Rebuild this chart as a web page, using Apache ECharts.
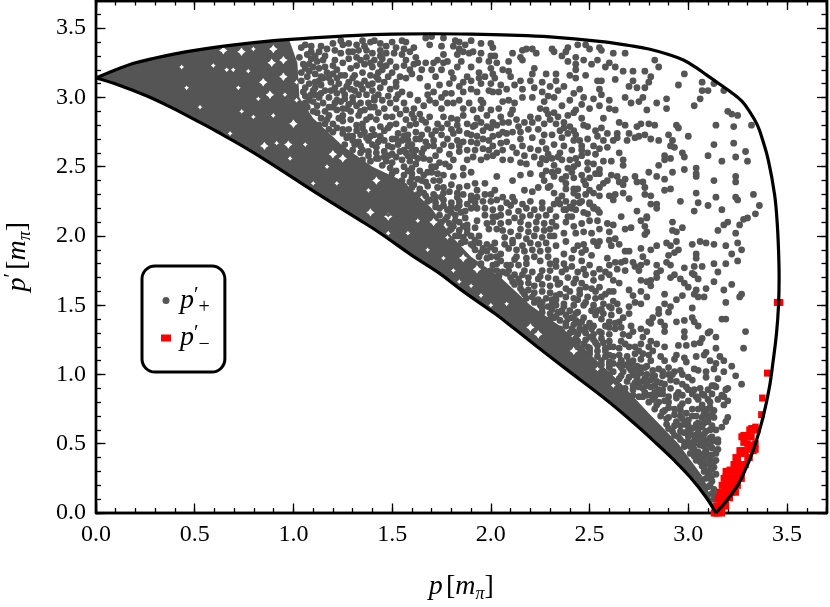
<!DOCTYPE html>
<html><head><meta charset="utf-8">
<script src="https://cdn.jsdelivr.net/npm/echarts@6/dist/echarts.min.js"></script>
<style>html,body{margin:0;padding:0;background:#fff}#c{width:830px;height:607px}</style></head>
<body><div id="c"></div>
<script>
const upperCurve=[[0,3.14],[0.1,3.2],[0.2,3.25],[0.3,3.285],[0.4,3.315],[0.5,3.34],[0.7,3.38],[0.9,3.41],[1.1,3.43],[1.3,3.447],[1.5,3.457],[1.7,3.46],[1.9,3.457],[2.1,3.45],[2.3,3.437],[2.55,3.405],[2.7,3.375],[2.8,3.35],[2.9,3.31],[2.975,3.27],[3.04,3.215],[3.09,3.165],[3.13,3.125],[3.165,3.09],[3.215,3.04],[3.27,2.975],[3.31,2.9],[3.35,2.8],[3.375,2.7],[3.405,2.55],[3.437,2.3],[3.45,2.1],[3.457,1.9],[3.46,1.7],[3.457,1.5],[3.447,1.3],[3.43,1.1],[3.41,0.9],[3.38,0.7],[3.34,0.5],[3.315,0.4],[3.285,0.3],[3.25,0.2],[3.2,0.1],[3.14,0]];
const lowerCurve=[[0,3.14],[0.114,3.09],[0.258,3.01],[0.385,2.925],[0.5,2.84],[0.61,2.756],[0.8,2.6],[1.035,2.385],[1.2,2.235],[1.33,2.12],[1.44,2.02],[1.6,1.86],[1.735,1.735],[1.86,1.6],[2.02,1.44],[2.12,1.33],[2.235,1.2],[2.385,1.035],[2.6,0.8],[2.756,0.61],[2.84,0.5],[2.925,0.385],[3.01,0.258],[3.09,0.114],[3.14,0]];
// Outline of the part of the cloud where the dots have merged into a solid mass, and the gaps left in it
const mergedCloudEdge=[[0.98,3.41],[1.02,3.25],[1.03,3.0],[1.1,2.85],[1.25,2.65],[1.4,2.5],[1.55,2.4],[1.7,2.2],[1.8,2.0],[1.9,1.85],[2.05,1.7],[2.2,1.5],[2.35,1.35],[2.5,1.15],[2.65,0.95],[2.8,0.72],[2.95,0.5],[3.08,0.25],[3.14,0]];
const largeGaps=[0.645,3.34,0.737,3.33,0.898,3.35,0.89,3.25,0.949,3.27,0.847,3.11,0.949,3.15,0.881,3.02,1.0,2.81,0.853,2.65,0.974,2.66,1.48,2.14,1.71,2.10,1.86,1.84,1.93,1.76,1.20,2.59,1.25,2.56,1.42,2.40,1.39,2.17,2.20,1.34,2.24,1.29,2.42,1.17];
const smallGaps=[0.434,3.22,0.594,3.23,0.797,3.35,0.662,3.20,0.695,3.20,0.771,3.19,1.016,3.11,0.822,2.99,0.957,3.02,1.016,2.98,0.721,3.07,0.797,2.86,0.898,2.87,0.915,2.67,0.983,2.56,0.679,2.74,0.527,2.93,0.459,3.07,0.738,2.90,1.63,2.11,1.58,2.02,1.78,1.99,1.76,1.84,1.81,1.75,1.90,1.64,1.48,2.02,1.68,1.90,1.84,1.67,1.95,1.57,2.00,1.50,2.08,1.51,1.06,2.66,1.17,2.50,1.22,2.38,1.38,2.33,1.10,2.38,1.48,2.15,2.54,1.04,2.62,0.92];
const plusRight=[2.62,3.32,2.68,3.32,2.83,3.27,2.85,3.22,2.98,3.17,2.95,3.09,3.07,3.11,3.13,3.10,3.18,3.05,3.10,3.05,3.07,3.05,3.06,2.99,3.03,2.94,3.20,2.90,3.22,2.88,3.25,2.87,3.32,2.80,3.23,2.79,3.14,2.80,3.00,2.72,3.23,2.67,3.13,2.66,3.29,2.61,3.10,2.58,3.24,2.57,3.17,2.54,3.30,2.54,2.98,2.48,3.04,2.49,3.04,2.45,3.04,2.43,3.13,2.40,3.24,2.43,3.24,2.39,3.33,2.30,3.14,2.28,3.24,2.28,3.25,2.26,3.04,2.31,3.05,2.24,3.10,2.22,2.96,2.25,3.03,2.18,3.17,2.19,3.36,2.22,3.34,2.16,3.30,2.13,2.92,2.46,2.85,2.51,2.80,2.46,2.84,2.43,2.88,2.41,2.88,2.33,2.91,2.34,2.73,2.43,2.74,2.39,2.77,2.39,2.78,2.35,2.78,2.30,2.81,2.29,2.81,2.23,2.84,2.23,2.84,2.20,2.74,2.18,2.79,2.14,2.70,2.27,2.67,2.31,2.63,2.30,2.60,2.29,2.62,2.26,2.55,2.29,2.52,2.31,2.66,2.14,2.59,2.40,2.61,2.44,2.64,2.43,2.65,2.39,2.68,2.41,2.67,2.37,2.55,2.48,2.53,2.45,2.55,2.45,2.61,2.54,2.67,2.55,2.67,2.51,2.65,2.60,2.59,2.64,2.55,2.63,2.52,2.65,2.53,2.59,2.88,2.58,2.88,2.55,2.91,2.56,2.97,2.60,2.98,2.57,2.91,2.65,2.93,2.64,2.92,2.69,2.90,2.73,2.85,2.69,2.81,2.70,2.78,2.73,2.75,2.72,2.73,2.71,2.70,2.74,2.69,2.69,2.74,2.79,2.76,2.81,2.80,2.81,2.83,2.80,2.94,2.80,2.95,2.78,2.68,2.80,2.65,2.82,2.64,2.74,2.64,2.71,2.59,2.74,2.56,2.78,2.53,2.76,2.54,2.72,2.57,2.85,2.49,2.70,2.46,2.85,2.47,2.80,2.49,2.79,2.40,2.79,2.37,2.82,2.33,2.81,2.37,2.78,2.42,2.76,2.43,2.73,2.45,2.69,2.46,2.65,2.46,2.62,2.46,2.58,2.36,2.71,2.31,2.73,2.41,2.62,2.35,2.60,2.34,2.57,2.36,2.55,2.40,2.55,2.43,2.56,2.49,2.48,2.39,2.49,2.41,2.46,2.38,2.43,2.32,2.51,2.32,2.43,2.46,2.44,2.47,2.40,2.48,2.37,2.38,2.38,2.38,2.34,2.42,2.34,2.44,2.34,2.42,2.31,2.44,2.29,2.48,2.30,2.36,2.29,2.30,2.36,2.34,2.26,2.35,2.23,2.38,2.25,2.42,2.24,2.46,2.25,2.38,2.19,2.41,2.20,2.43,2.19,2.39,2.14,2.50,2.23,2.52,2.21,2.54,2.19,2.55,2.17,2.49,2.16,2.31,3.35,2.32,3.33,2.39,3.36,2.38,3.33,2.36,3.30,2.44,3.38,2.48,3.38,2.50,3.35,2.55,3.36,2.56,3.34,2.43,3.29,2.47,3.27,2.39,3.26,2.43,3.24,2.43,3.20,2.51,3.24,2.54,3.27,2.58,3.22,2.60,3.25,2.63,3.22,2.67,3.19,2.72,3.19,2.78,3.19,2.81,3.15,2.80,3.11,2.72,3.12,2.70,3.08,2.74,3.07,2.78,3.07,2.63,3.13,2.56,3.12,2.54,3.12,2.48,3.16,2.43,3.14,2.40,3.16,2.33,3.17,2.33,3.12,2.45,3.06,2.55,3.06,2.56,3.02,2.47,3.00,2.52,2.99,2.40,2.98,2.32,3.00,2.60,2.98,2.68,3.00,2.77,3.00,2.75,2.97,2.71,2.96,2.84,2.96,2.89,2.99,2.89,2.92,2.79,2.91,2.63,2.91,2.60,2.92,2.55,2.94,2.50,2.92,2.43,2.91,2.42,2.89,2.32,2.89,2.39,2.87];
const plusLowerRight=[3.28,2.12,3.26,2.08,3.24,2.02,3.20,2.10,3.18,2.08,3.15,2.04,2.92,2.10,2.97,2.06,2.92,2.04,2.94,2.03,2.76,2.11,2.79,2.13,2.78,2.07,2.79,2.03,2.78,2.01,2.68,2.05,2.71,2.06,3.02,1.94,3.06,1.96,3.09,1.95,3.13,1.94,3.19,1.93,3.25,1.95,3.27,1.90,3.22,1.87,3.25,1.82,2.89,1.95,2.94,1.96,2.91,1.93,2.95,1.90,2.93,1.88,2.90,1.86,2.84,1.93,2.81,1.90,2.76,1.91,2.70,1.89,2.68,1.89,3.04,1.87,3.04,1.84,3.13,1.80,3.19,1.80,3.15,1.74,3.13,1.67,3.18,1.61,3.22,1.65,3.27,1.58,3.26,1.56,3.19,1.52,2.98,1.77,3.03,1.78,3.07,1.78,2.89,1.81,2.91,1.79,2.84,1.79,2.86,1.75,2.84,1.73,2.84,1.70,2.81,1.68,2.91,1.70,2.93,1.72,2.96,1.69,2.98,1.66,3.00,1.63,3.02,1.73,3.03,1.72,3.05,1.69,3.04,1.61,3.03,1.58,3.09,1.62,3.08,1.56,3.05,1.56,2.97,1.57,2.94,1.54,2.88,1.58,2.85,1.47,2.88,1.51,2.91,1.49,2.90,1.45,3.02,1.48,3.17,1.40,3.19,1.40,2.94,1.38,2.98,1.39,3.02,1.41,3.03,1.38,3.05,1.35,2.98,1.31,2.98,1.27,3.10,1.30,3.14,1.27,3.29,1.31,3.28,1.19,2.95,1.21,2.99,1.21,3.03,1.22,3.14,1.19,3.09,1.16,3.08,1.14,2.94,1.14,2.93,1.11,2.99,1.09,3.04,1.13,3.11,1.10,3.14,1.08,3.18,1.10,3.16,1.13,3.22,1.06,3.13,1.04,3.18,1.02,3.24,0.99,3.27,0.93,3.00,0.98,3.05,1.03,3.09,1.02,2.93,1.02,3.13,0.92,3.18,0.84,3.08,0.85,3.20,0.81,3.03,0.89,2.97,0.93,3.00,0.89,2.95,0.87,2.92,1.00,2.91,0.96,2.87,0.99,2.88,0.93,2.77,1.85,2.79,1.81,2.76,1.79,2.73,1.78,2.75,1.75,2.72,1.81,2.68,1.82,2.66,1.81,2.63,1.81,2.59,1.84,2.60,1.79,2.64,1.76,2.68,1.75,2.76,1.68,2.79,1.67,2.81,1.64,2.76,1.60,2.72,1.57,2.79,1.56,2.73,1.52,2.76,1.51,2.65,1.66,2.70,1.61,2.62,1.60,2.60,1.60,2.85,1.44,2.82,1.41,2.86,1.38,2.81,1.37,2.88,1.35,2.88,1.31,2.80,1.38,2.79,1.31,2.76,1.33,2.71,1.35,2.72,1.31,2.70,1.28,2.77,1.27,2.81,1.24,2.84,1.22,2.88,1.20,2.76,1.22,2.64,1.51,2.65,1.46,2.62,1.53,2.67,1.41,2.65,1.38,2.66,1.34,2.63,1.33,2.67,1.29,2.66,1.24,2.70,1.44,2.70,1.49,2.60,1.49,2.57,1.44,2.54,1.46,3.11,1.31,3.07,1.26,3.06,1.23,3.15,0.97,3.14,0.91,3.12,0.92,3.09,0.98,3.20,0.90,3.19,0.89,3.17,0.85,3.15,0.82,3.18,0.78,3.20,0.69,3.19,0.66,3.17,0.62,3.14,0.60,3.11,0.76,3.08,0.75,3.13,0.74,3.08,0.72,3.13,0.69,3.10,0.69,3.15,0.51,3.15,0.46,3.14,0.43,3.14,0.38,3.15,0.53,3.12,0.32,3.14,0.28,3.12,0.23,3.13,0.17,3.14,0.13];
const plusTopMiddle=[1.67,3.43,1.70,3.44,1.69,3.38,1.75,3.37,1.76,3.43,1.82,3.41,1.84,3.40,1.87,3.38,1.90,3.41,1.81,3.37,1.84,3.35,1.86,3.33,1.89,3.32,1.91,3.33,1.95,3.39,2.00,3.39,2.01,3.36,1.95,3.32,2.00,3.30,2.02,3.30,1.94,3.27,1.99,3.26,2.03,3.25,2.09,3.26,2.11,3.32,2.16,3.34,2.18,3.35,2.21,3.35,2.23,3.32,2.15,3.29,2.16,3.27,2.22,3.21,2.21,3.17,2.20,3.12,2.28,3.17,2.00,3.21,2.01,3.17,2.06,3.20,2.09,3.19,2.10,3.15,2.02,3.14,2.00,3.10,2.05,3.09,2.01,3.04,1.99,3.05,1.95,3.10,1.90,3.22,1.88,3.15,1.86,3.11,1.90,3.12,1.84,3.08,1.86,3.04,1.90,3.06,1.93,3.04,1.95,2.98,1.96,2.96,1.76,3.31,1.73,3.27,1.71,3.25,1.70,3.20,1.72,3.15,1.76,3.25,1.78,3.26,1.67,3.25,1.62,3.29,1.61,3.36,1.57,3.40,1.55,3.41,1.56,3.35,1.57,3.27,1.60,3.17,1.59,3.20,1.54,3.15,1.52,3.11,1.52,3.08,1.57,3.14,1.64,3.14,1.68,3.08,1.71,3.04,1.74,3.09,1.77,3.03,1.80,3.18,1.81,3.14,1.79,3.10,1.84,2.98,1.81,2.96,1.89,2.96,1.91,2.91,1.95,2.92,1.98,2.87,2.00,2.91,2.04,2.92,2.06,2.97,2.09,2.98,2.12,2.96,2.16,3.00,2.21,3.00,2.25,2.92,2.28,2.91,2.29,2.88,2.11,2.91,2.10,2.88,2.05,2.86,2.01,2.82,1.98,2.79,1.95,2.82,1.93,2.85,2.20,2.86,2.17,2.82,2.14,2.79,2.13,2.84,2.11,2.75,2.15,2.75,2.06,2.75,2.04,2.73,2.01,2.72,1.99,2.69,2.01,2.65,2.05,2.67,2.08,2.68,2.11,2.64,2.16,2.65,2.20,2.63,2.24,2.77,2.27,2.73,2.26,2.68,2.28,2.63,2.29,2.59,2.21,2.71,1.96,2.70,1.93,2.72,1.90,2.73,1.88,2.74,1.83,2.69,1.86,2.68,1.90,2.68,1.93,2.67,1.96,2.63,1.78,2.70,1.81,2.74,1.84,2.76,1.88,2.81,1.91,2.79,1.83,2.84,1.80,2.85,1.76,2.86,1.73,2.81,1.72,2.76,1.70,2.73,1.62,2.81,1.67,2.82,1.79,2.59,1.81,2.55,1.77,2.52,1.79,2.50,1.81,2.43,1.86,2.49,1.86,2.44,1.90,2.46,1.93,2.33,1.97,2.38,2.03,2.43,2.02,2.33,2.11,2.40,2.15,2.44,2.20,2.45,2.18,2.52,2.15,2.53,2.10,2.55,2.06,2.55,2.01,2.58,1.98,2.57,1.95,2.55,1.91,2.57,1.88,2.55,1.84,2.61,2.25,2.52,2.28,2.47,2.29,2.35,2.24,2.35,2.21,2.32,2.17,2.33,2.11,2.28,2.06,2.28,2.03,2.26,2.00,2.30,1.96,2.25,1.93,2.28,1.90,2.26,1.86,2.30,1.83,2.28,1.79,2.32,1.76,2.31,1.73,2.35,1.71,2.40,1.73,2.45,1.70,2.50,1.74,2.53,1.72,2.58,1.74,2.62,1.71,2.65,1.67,2.68,1.65,2.73];
const plusTopLeft=[1.39,3.40,1.41,3.41,1.35,3.41,1.32,3.38,1.30,3.33,1.32,3.29,1.37,3.34,1.40,3.32,1.44,3.34,1.47,3.37,1.50,3.40,1.47,3.32,1.49,3.26,1.47,3.23,1.43,3.18,1.41,3.27,1.29,3.21,1.26,3.16,1.31,3.16,1.35,3.18,1.48,3.15,1.46,3.11,1.25,3.38,1.24,3.41,1.20,3.39,1.24,3.32,1.21,3.27,1.16,3.30,1.14,3.37,1.09,3.37,1.06,3.38,1.12,3.26,1.08,3.24,1.09,3.28,1.05,3.24,1.15,3.14,1.14,3.09,1.16,3.05,1.23,3.10,1.25,3.05,1.26,3.02,1.22,2.98,1.20,2.93,1.25,2.92,1.29,3.06,1.31,3.05,1.35,3.06,1.40,3.05,1.43,3.02,1.45,2.98,1.41,2.93,1.36,2.91,1.33,3.02,1.37,3.02,1.38,2.96,1.32,2.94,1.52,2.99,1.55,3.04,1.59,3.02,1.49,2.96,1.52,2.92,1.47,2.86,1.50,2.86,1.54,2.88,1.57,2.91,1.61,2.92,1.66,2.94,1.63,2.98,1.69,2.98,1.68,3.02,1.72,2.96,1.42,2.84,1.39,2.86,1.32,2.80,1.29,2.84,1.25,2.87,1.23,2.85,1.20,2.81,1.18,2.87,1.18,2.93,1.15,2.96,1.09,3.02,1.05,3.04,1.10,3.05,1.11,3.11,1.07,3.15,1.11,3.17,1.16,3.22,1.20,3.17,1.22,3.20,1.06,3.21,1.07,2.93,1.10,2.90,1.14,2.85,1.16,2.81,1.20,2.75,1.25,2.77,1.28,2.77,1.36,2.75,1.40,2.77,1.44,2.79,1.49,2.80,1.52,2.81,1.56,2.77,1.59,2.80,1.62,2.75,1.58,2.73,1.53,2.74,1.50,2.70,1.46,2.69,1.41,2.73,1.38,2.69,1.34,2.73,1.30,2.69,1.27,2.71,1.26,2.66,1.30,2.62,1.34,2.65,1.38,2.61,1.42,2.64,1.46,2.61,1.50,2.64,1.54,2.61,1.58,2.65,1.62,2.62,1.66,2.63];
const plusTopLeftExtra=[1.09,3.33,1.13,3.33,1.17,3.35,1.21,3.34,1.28,3.33,1.28,3.39,1.33,3.34,1.36,3.37,1.44,3.39,1.52,3.36,1.51,3.32,1.55,3.31,1.59,3.33,1.44,3.30,1.37,3.29,1.28,3.28,1.25,3.25,1.20,3.23,1.13,3.21,1.10,3.22,1.32,3.23,1.36,3.24,1.40,3.22,1.44,3.24,1.52,3.22,1.56,3.23,1.61,3.24,1.65,3.20,1.63,3.25,1.39,3.16,1.43,3.13,1.50,3.18,1.24,3.16,1.17,3.18,1.14,3.15,1.19,3.11,1.28,3.11,1.32,3.10,1.36,3.12,1.40,3.10,1.44,3.07,1.49,3.06,1.53,3.02,1.08,3.10,1.11,3.07,1.19,3.05,1.08,2.98,1.13,3.00,1.18,3.00,1.22,3.03,1.30,3.00,1.41,2.98,1.48,3.01,1.28,2.95,1.24,2.97,1.12,2.89,1.22,2.91,1.29,2.90,1.34,2.96,1.43,2.89,1.46,2.92,1.56,2.96,1.60,2.88,1.64,2.88,1.57,2.84,1.61,2.85,1.65,2.84,1.69,2.86,1.35,2.81,1.46,2.76,1.28,2.72,1.33,2.68,1.43,2.68,1.55,2.69,1.58,2.69,1.62,2.70,1.68,2.77,1.71,2.69,1.75,2.73,1.75,2.78,1.78,2.81,1.80,2.77,1.76,2.66,1.80,2.65,1.84,2.65,1.88,2.62,1.92,2.62,1.83,2.80,1.86,2.87,1.75,2.92,1.78,2.96,1.86,2.92,1.92,2.80,1.96,2.76,2.00,2.78,2.03,2.80,2.06,2.82,2.09,2.82,2.08,2.74,2.15,2.70,2.19,2.77,2.21,2.82,2.24,2.85,2.27,2.81,2.06,2.62,1.99,2.62,2.03,2.60,2.13,2.60,2.17,2.58,2.22,2.57,2.24,2.62,2.26,2.56,1.75,3.00,1.80,3.03,1.75,3.20,1.83,3.22,1.85,3.26,1.83,3.31,1.94,3.18,1.97,3.15,1.94,3.14,2.04,3.04,2.08,3.06,2.12,3.09,2.15,3.12,2.16,3.06,2.22,3.07,2.26,3.04,2.26,3.11,2.30,3.08,2.29,3.01,2.34,3.05,2.37,3.08,2.42,3.03,2.36,2.94,2.46,2.95,2.27,2.97,2.30,2.84,2.34,2.86,2.35,2.76,2.39,2.74,2.42,2.69,2.32,2.66,2.37,2.65,2.28,2.55,2.31,2.56,2.42,2.50,2.44,2.52,2.34,2.47,2.26,2.44,2.31,2.46,2.36,2.41,2.42,2.42,2.27,2.40,2.32,2.31,2.50,2.33,2.55,2.35,2.57,2.38,2.50,2.42,2.49,2.53,2.49,2.60,2.52,2.52,2.57,2.54,2.57,2.69,2.62,2.69];
const plusMiddleDense=[1.34,2.60,1.38,2.58,1.42,2.60,1.46,2.57,1.50,2.59,1.57,2.60,1.61,2.58,1.65,2.60,1.35,2.55,1.39,2.54,1.43,2.56,1.47,2.54,1.55,2.55,1.59,2.54,1.63,2.56,1.69,2.55,1.45,2.51,1.49,2.49,1.56,2.50,1.60,2.49,1.64,2.47,1.72,2.50,1.50,2.45,1.56,2.44,1.60,2.45,1.66,2.44,1.68,2.46,1.76,2.44,1.55,2.40,1.59,2.39,1.63,2.41,1.67,2.39,1.74,2.40,1.60,2.35,1.64,2.34,1.68,2.36,1.76,2.35,1.80,2.37,1.84,2.35,1.88,2.36,1.92,2.38,1.63,2.30,1.67,2.29,1.71,2.30,1.75,2.28,1.83,2.31,1.90,2.29,1.97,2.30,1.68,2.25,1.72,2.24,1.76,2.26,1.80,2.24,1.84,2.25,1.88,2.23,1.92,2.24,2.00,2.25,2.08,2.24,2.12,2.25,2.16,2.23,2.20,2.25,2.26,2.24,1.74,2.20,1.78,2.19,1.83,2.20,1.87,2.18,1.90,2.20,1.97,2.20,2.01,2.19,2.05,2.20,2.14,2.18,2.18,2.20,2.22,2.19,2.26,2.20,2.30,2.19,1.74,2.15,1.78,2.14,1.82,2.15,1.87,2.13,1.97,2.15,2.01,2.14,2.05,2.15,2.16,2.14,2.20,2.15,2.24,2.14,2.28,2.15,1.75,2.10,1.79,2.09,1.84,2.10,1.88,2.08,1.98,2.09,2.01,2.10,2.05,2.09,2.15,2.10,2.19,2.08,2.23,2.10,2.27,2.09,2.31,2.10,1.80,2.05,1.84,2.04,1.88,2.05,1.99,2.05,2.06,2.04,2.15,2.05,2.19,2.03,2.23,2.05,2.27,2.04,2.30,2.05,1.82,2.00,1.86,1.99,1.90,2.00,2.07,1.99,2.14,2.00,2.18,1.98,2.22,2.00,2.26,1.99,2.30,2.00,1.85,1.95,1.90,1.94,1.94,1.95,1.98,1.94,2.02,1.95,2.07,1.94,2.11,1.95,2.16,1.93,2.20,1.95,2.24,1.94,2.28,1.95,1.92,1.90,1.98,1.89,2.02,1.90,2.13,1.90,2.17,1.89,2.21,1.90,2.25,1.89,2.29,1.90,1.94,1.85,1.98,1.84,2.03,1.85,2.13,1.85,2.18,1.84,2.22,1.85,2.29,1.85,1.95,1.80,2.03,1.80,2.08,1.79,2.18,1.80,2.30,1.80,2.03,1.75,2.06,1.74,2.09,1.75,2.17,1.75,2.21,1.74,2.30,1.75,2.10,1.70,2.14,1.69,2.19,1.70,2.24,1.69,2.29,1.70,2.33,1.69,2.12,1.65,2.22,1.64,2.26,1.65,2.30,1.64,2.34,1.65,2.16,1.60,2.22,1.59,2.26,1.60,2.30,1.59,2.40,1.60,2.45,1.61,2.18,1.55,2.24,1.54,2.28,1.55,2.31,1.54,2.42,1.55,2.25,1.50,2.29,1.49,2.33,1.50,2.37,1.49,2.26,1.45,2.30,1.44,2.35,1.45,2.40,1.46,2.44,1.45,2.30,1.40,2.35,1.39,2.39,1.40,2.43,1.39,2.56,1.40,2.38,1.35,2.48,1.34,2.52,1.35,2.60,1.34,2.40,1.30,2.44,1.29,2.48,1.30,2.52,1.29,2.40,1.25,2.44,1.24,2.48,1.25,2.56,1.26,2.60,1.24,2.44,1.20,2.50,1.19,2.54,1.21,2.60,1.20,2.65,1.19,2.70,1.20,2.50,1.15,2.60,1.14,2.73,1.15,2.80,1.14,2.56,1.10,2.60,1.09,2.66,1.10,2.70,1.09,2.76,1.11,2.88,1.10,2.60,1.05,2.73,1.04,2.78,1.05,2.85,1.04,2.90,1.05,2.60,1.00,2.66,0.99,2.72,1.00,2.76,1.01,2.83,0.99,2.97,1.00,2.69,0.95,2.73,0.94,2.77,0.95,2.81,0.96,2.86,0.94,2.94,0.95,3.02,0.96,2.68,0.90,2.72,0.89,2.77,0.90,2.81,0.91,2.85,0.89,2.91,0.90,2.99,0.91,3.06,0.90,3.10,0.89,2.72,0.85,2.77,0.84,2.81,0.85,2.85,0.86,2.90,0.84,2.94,0.85,3.04,0.84,3.12,0.86];
const plusCloudEdge=[1.04,3.36,1.07,3.31,1.11,3.30,1.15,3.27,1.03,3.29,1.04,3.18,1.08,3.19,1.13,3.12,1.04,3.12,1.06,3.07,1.18,3.14,1.22,3.14,1.27,3.08,1.21,3.07,1.06,3.01,1.11,3.02,1.14,3.03,1.06,2.96,1.12,2.94,1.16,2.90,1.10,2.97,1.21,2.96,1.26,2.99,1.30,2.97,1.25,2.83,1.17,2.84,1.22,2.78,1.13,2.80,1.18,2.77,1.25,2.74,1.32,2.76,1.30,2.72,1.35,2.78,1.37,2.71,1.31,2.66,1.35,2.62,1.40,2.66,1.44,2.70,1.48,2.65,1.39,2.72,1.37,2.84,1.33,2.87,1.27,2.92,1.34,2.90,1.39,2.93,1.41,3.00,1.34,3.09,1.30,3.14,1.38,3.09,1.42,3.15,1.45,3.20,1.34,3.27,1.39,3.25,1.45,3.28,1.44,2.72,1.48,2.78,1.52,2.70,1.56,2.72,1.60,2.66,1.64,2.70,1.68,2.65,1.53,2.66,1.56,2.62,1.60,2.62,1.66,2.56,1.52,2.57,1.48,2.58,1.42,2.56,1.50,2.53,1.58,2.58,1.52,2.47,1.58,2.47,1.62,2.52,1.70,2.46,1.65,2.40,1.60,2.42,1.56,2.36,1.61,2.37,1.66,2.31,1.69,2.26,1.72,2.28,1.72,2.21,1.76,2.22,1.80,2.21,1.84,2.22,1.80,2.17,1.85,2.17,1.77,2.12,1.82,2.11,1.86,2.07,1.81,2.07,1.79,2.04,1.84,2.00,1.88,2.02,1.87,1.96,1.92,1.97,1.91,1.93,1.96,1.91,2.00,1.92,1.95,1.88,2.00,1.85,2.05,1.87,2.05,1.82,2.01,1.79,2.00,1.75,2.04,1.71,2.08,1.73,2.12,1.72,2.16,1.72,2.11,1.67,2.15,1.66,2.19,1.66,2.15,1.62,2.19,1.61,2.17,1.58,2.21,1.56,2.22,1.52,2.26,1.52,2.31,1.51,2.26,1.48,2.31,1.47,2.36,1.46,2.33,1.42,2.38,1.37,2.42,1.36,2.45,1.37,2.36,1.31,2.42,1.31,2.46,1.32,2.38,1.28,2.43,1.26,2.50,1.27,2.47,1.22,2.53,1.23,2.46,1.18,2.50,1.17,2.54,1.13,2.58,1.13,2.62,1.13,2.56,1.07,2.60,1.07,2.65,1.07,2.68,1.07,2.62,1.02,2.67,1.02,2.71,1.03,2.75,1.02,2.65,0.97,2.70,0.98,2.74,0.97,2.78,0.97,2.72,0.92,2.75,0.93,2.79,0.92,2.83,0.92,2.78,0.87,2.83,0.84,2.87,0.86,2.80,0.80,2.85,0.80,2.90,0.80,2.83,0.75,2.88,0.74,2.93,0.75,2.86,0.70,2.90,0.69,2.96,0.70,2.89,0.64,2.93,0.63,2.98,0.64,2.92,0.59,2.96,0.59,3.00,0.60,2.95,0.55,3.00,0.55,3.05,0.58,2.98,0.51,3.03,0.50,3.07,0.50,3.05,0.44,3.09,0.45,3.05,0.39,3.08,0.40,3.11,0.38,3.08,0.30,3.09,0.25,3.11,0.25];
const plusGapFillers=[2.10,2.22,2.09,2.17,2.12,2.13,2.09,2.10,2.10,2.03,2.11,1.97,2.09,1.91,1.93,2.20,1.93,2.11,1.92,2.06,1.94,2.00,2.03,2.14,2.03,2.05,2.12,1.83,2.10,1.79,2.14,1.79,2.25,1.82,2.26,1.75,2.25,1.71,2.97,0.85,3.02,0.86,3.07,0.86,3.10,0.82,2.97,0.79,3.05,0.75,3.10,0.75,2.96,0.74,3.02,0.70,3.07,0.69,3.12,0.71,2.97,0.68,3.04,0.64,3.08,0.65,3.12,0.63,3.00,0.63,3.05,0.61,3.09,0.59,3.01,0.57,3.06,0.55,3.11,0.54,3.03,0.52,3.08,0.53,3.13,0.52,3.01,0.48,3.06,0.49,3.11,0.49,3.04,0.44,3.08,0.43,3.12,0.42,3.03,0.41,3.06,0.37,3.11,0.35,3.07,0.34,3.10,0.29,3.13,0.33,3.10,0.19,3.12,0.14,2.33,1.57,2.37,1.51,2.41,1.41,2.46,1.38,2.51,1.33,2.56,1.30,2.58,1.19,2.66,1.10,2.71,1.08,2.74,1.06,2.79,1.06,2.82,0.99,2.87,1.02,2.90,1.00,2.96,1.03,3.03,1.04,2.98,1.12,2.35,1.66,2.39,1.70,2.36,1.74,2.41,1.78,2.41,1.84,2.46,1.82,2.44,1.74,2.52,1.68,2.48,1.63,2.53,1.60,2.56,1.56,2.48,1.52,2.52,1.50,2.57,1.51,2.61,1.48,2.60,1.38,2.68,1.22,2.73,1.20,2.75,1.17,2.80,1.20];
const plusLeftOfRight=[2.32,2.23,2.37,2.19,2.40,2.21,2.45,2.24,2.50,2.24,2.52,2.20,2.47,2.17,2.41,2.14,2.33,2.14,2.38,2.10,2.42,2.07,2.46,2.09,2.50,2.11,2.54,2.11,2.59,2.09,2.62,2.08,2.55,2.05,2.60,2.03,2.51,2.02,2.47,2.03,2.33,2.07,2.32,2.00,2.37,2.02,2.43,2.02,2.52,1.96,2.55,1.96,2.60,1.97,2.63,1.98,2.65,1.94,2.61,1.93,2.54,1.93,2.38,1.96,2.33,1.93,2.44,1.93,2.47,1.94,2.42,1.90,2.46,1.88,2.48,1.90,2.37,1.87,2.51,1.86,2.33,1.82,2.37,1.80,2.38,1.76,2.33,1.78,2.47,1.76,2.50,1.79,2.55,1.76,2.58,1.74,2.62,1.68,2.52,1.73,2.56,1.70,2.60,1.72,2.48,1.72,2.43,1.69,2.42,1.66,2.46,1.66,2.38,1.62,2.35,1.58,2.33,1.54,2.38,1.56,2.45,1.58,2.49,1.56,2.44,1.54,2.51,1.62,2.55,1.63,2.58,1.58,2.53,1.55,2.42,1.50,2.47,1.50,2.51,1.46,2.43,1.44,2.38,1.43,2.34,1.45,2.32,1.41,2.47,1.41,2.56,1.47,2.53,1.43,2.61,1.43,2.63,1.37,2.58,1.35,2.50,1.37,2.45,1.33,2.41,1.33,2.35,1.33,2.32,1.33,2.55,1.31,2.60,1.29,2.52,1.25,2.57,1.23,2.49,1.20,2.54,1.17,2.58,1.17,2.62,1.20,2.65,1.14,2.69,1.13,2.72,1.10,2.77,1.15,2.82,1.17,2.86,1.13,2.81,1.10,2.76,1.05,2.70,1.05,2.66,1.05,2.62,1.08,2.82,1.03,2.79,1.00,2.74,0.98,2.84,0.95,2.79,0.93,2.75,0.91,2.87,0.89,2.83,0.87,2.79,0.85,2.75,0.84];
const plusTail=[2.82,0.82,2.88,0.81,2.94,0.83,3.00,0.81,3.05,0.82,3.11,0.80,2.84,0.78,2.90,0.76,2.96,0.77,3.02,0.75,3.07,0.78,2.87,0.73,2.93,0.71,2.99,0.72,3.04,0.70,3.09,0.71,2.89,0.68,2.94,0.66,3.00,0.67,3.05,0.65,3.10,0.66,2.90,0.61,2.96,0.63,3.02,0.61,3.07,0.62,3.11,0.60,2.93,0.56,2.98,0.58,3.03,0.56,3.08,0.57,3.12,0.55,2.96,0.53,3.00,0.51,3.05,0.53,3.10,0.51,2.98,0.48,3.03,0.46,3.08,0.48,3.12,0.47,3.01,0.43,3.06,0.41,3.10,0.42,3.04,0.38,3.09,0.36,3.13,0.37,3.08,0.33,3.11,0.31,3.12,0.27,3.11,0.20,3.13,0.10];
const minusPoints=[3.465,1.52,3.45,1.52,3.40,1.01,3.375,0.83,3.37,0.71,3.34,0.62,3.32,0.61,3.31,0.60,3.33,0.60,3.35,0.60,3.28,0.56,3.30,0.56,3.27,0.55,3.29,0.55,3.32,0.55,3.28,0.51,3.33,0.49,3.34,0.50,3.30,0.50,3.34,0.46,3.31,0.46,3.27,0.45,3.26,0.45,3.29,0.45,3.33,0.45,3.25,0.40,3.27,0.43,3.30,0.40,3.24,0.40,3.31,0.40,3.25,0.37,3.23,0.35,3.26,0.35,3.29,0.35,3.21,0.31,3.19,0.30,3.22,0.30,3.25,0.30,3.27,0.30,3.24,0.28,3.26,0.26,3.19,0.26,3.18,0.25,3.21,0.25,3.24,0.25,3.27,0.25,3.19,0.21,3.21,0.21,3.24,0.21,3.17,0.20,3.20,0.20,3.23,0.20,3.25,0.20,3.18,0.16,3.20,0.16,3.23,0.16,3.16,0.15,3.19,0.15,3.22,0.15,3.24,0.15,3.16,0.11,3.19,0.11,3.21,0.11,3.15,0.10,3.18,0.10,3.16,0.08,3.19,0.07,3.14,0.05,3.17,0.05,3.19,0.05,3.14,0.03,3.17,0.03,3.14,0.0,3.15,0.0,3.13,0.0,3.17,0.0];
const plusName='p′+', minusName='p′−';
const xLimit=3.7, yLimit=3.7, majorStep=0.5, minorStep=0.1;

const pairs=a=>{const o=[];for(let i=0;i<a.length;i+=2)o.push([a[i],a[i+1]]);return o;};
const plusPoints=pairs([].concat(plusRight,plusLowerRight,plusTopMiddle,plusTopLeft,plusTopLeftExtra,plusMiddleDense,plusCloudEdge,plusGapFillers,plusLeftOfRight,plusTail));
const mergedOutline=upperCurve.slice(0,8).concat(mergedCloudEdge,lowerCurve.slice().reverse());
const serif='"Liberation Serif","Times New Roman",serif';
function ax(pos,isMajor,withLabel,limit){
  return {type:'value',position:pos,min:0,max:limit,interval:isMajor?majorStep:minorStep,
    axisLine:{show:true,onZero:false,lineStyle:{color:'#000',width:2.4}},
    axisTick:{show:true,inside:true,length:isMajor?9.5:5,lineStyle:{color:'#000',width:1.3}},
    splitLine:{show:false},
    axisLabel:{show:withLabel,color:'#000',fontFamily:serif,fontSize:24,margin:10,showMaxLabel:false,formatter:v=>v.toFixed(1)}};
}
const mathRich={i:{fontFamily:serif,fontStyle:'italic',fontSize:28,color:'#000'},n:{fontFamily:serif,fontSize:28,color:'#000'},
  sub:{fontFamily:serif,fontStyle:'italic',fontSize:18,color:'#000',padding:[14,0,0,0]},
  sup:{fontFamily:serif,fontSize:20,color:'#000',padding:[0,0,10,0]}};
const xA=ax('bottom',true,true,xLimit);
Object.assign(xA,{name:'{i|p} {n|[}{i|m}{sub|π}{n|]}',nameLocation:'middle',nameGap:58,nameTextStyle:{rich:mathRich}});
const yA=ax('left',true,true,yLimit);
Object.assign(yA,{name:'{i|p}{sup|′} {n|[}{i|m}{sub|π}{n|]}',nameLocation:'middle',nameGap:62,nameRotate:90,nameTextStyle:{rich:mathRich}});
// Screen-space path of the merged mass with its gaps wound the opposite way, so they stay open
function mergedPath(api){
  const pts=mergedOutline.map(d=>api.coord(d));
  let area=0;pts.forEach((a,i)=>{const b=pts[(i+1)%pts.length];area+=a[0]*b[1]-b[0]*a[1];});
  const dirs=area>0?[[0,-1],[-.4,-.4],[-1,0],[-.4,.4],[0,1],[.4,.4],[1,0],[.4,-.4]]:[[0,-1],[.4,-.4],[1,0],[.4,.4],[0,1],[-.4,.4],[-1,0],[-.4,-.4]];
  let d='M'+pts.map(p=>p[0].toFixed(1)+' '+p[1].toFixed(1)).join('L')+'Z';
  const addGaps=(list,r)=>pairs(list).forEach(g=>{const c=api.coord(g);d+='M'+dirs.map(v=>(c[0]+v[0]*r*1.5).toFixed(1)+' '+(c[1]+v[1]*r*1.5).toFixed(1)).join('L')+'Z';});
  addGaps(largeGaps,2.8);addGaps(smallGaps,1.6);
  return d;
}
const chart=echarts.init(document.getElementById('c'),null,{renderer:'canvas'});
chart.setOption({animation:false,backgroundColor:'#fff',
 grid:{left:96,right:3.5,top:0.5,bottom:94,outerBoundsMode:'none'},
 xAxis:[xA,ax('top',true,false,xLimit),ax('bottom',false,false,xLimit),ax('top',false,false,xLimit)],
 yAxis:[yA,ax('right',true,false,yLimit),ax('left',false,false,yLimit),ax('right',false,false,yLimit)],
 legend:{show:true,left:142,top:266,orient:'vertical',data:[plusName,minusName],itemWidth:10,itemHeight:7,itemGap:5,padding:[19,15,17,19],
   backgroundColor:'#fff',borderColor:'#000',borderWidth:3,borderRadius:13,
   formatter:n=>n===plusName?'{i|p}{s|′}{b|+}':'{i|p}{s|′}{b|−}',
   textStyle:{rich:{i:{fontFamily:serif,fontStyle:'italic',fontSize:28,color:'#000',padding:[0,0,0,4]},s:{fontFamily:serif,fontSize:21,color:'#000',padding:[0,0,10,0]},b:{fontFamily:serif,fontSize:20,color:'#000',padding:[14,0,0,0]}}}},
 series:[
  {type:'custom',coordinateSystem:'cartesian2d',silent:true,z:1,clip:false,data:[mergedOutline[0]],encode:{x:0,y:1},
   renderItem:(params,api)=>({type:'path',shape:{pathData:mergedPath(api)},style:{fill:'#555555'}})},
  {type:'scatter',name:plusName,data:plusPoints,symbol:'circle',symbolSize:6.8,itemStyle:{color:'#555555',opacity:1},z:2,clip:false,silent:true},
  {type:'scatter',name:minusName,data:pairs(minusPoints),symbol:'rect',symbolSize:[6.5,7],itemStyle:{color:'#ff0000',opacity:1},z:3,clip:false,silent:true},
  {type:'line',data:upperCurve,smooth:0.4,showSymbol:false,lineStyle:{color:'#000',width:3.2},z:4,clip:false,silent:true},
  {type:'line',data:lowerCurve,smooth:0.4,showSymbol:false,lineStyle:{color:'#000',width:3.2},z:4,clip:false,silent:true}
 ]});
</script></body></html>
